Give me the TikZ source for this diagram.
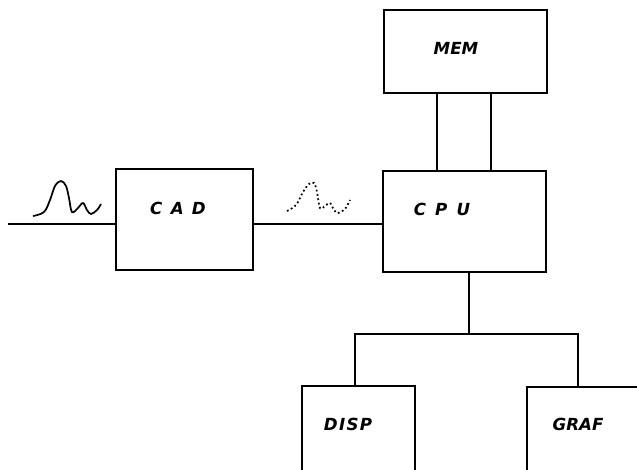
\documentclass[tikz,border=0pt]{standalone}
\usepackage{fontspec}
\newfontfamily\lblfont{DejaVu Sans}
\begin{document}
\begin{tikzpicture}[x=0.75pt,y=-0.75pt,line width=1.1pt,
  lbl/.style={font=\lblfont\bfseries\itshape\fontsize{12.5}{14}\selectfont},
  wire/.style={line width=1.1pt}]
\useasboundingbox (0,0) rectangle (637,470);
\clip (0,0) rectangle (637,470);
% boxes (drawn as nodes)
\node[draw,minimum width=163*0.75pt,minimum height=83*0.75pt,inner sep=0pt] (mem) at (465.5,51.5) {};
\node[draw,minimum width=163*0.75pt,minimum height=101*0.75pt,inner sep=0pt] (cpu) at (464.5,221.5) {};
\node[draw,minimum width=137*0.75pt,minimum height=101*0.75pt,inner sep=0pt] (cad) at (184.5,219.5) {};
\node[draw,minimum width=113*0.75pt,minimum height=100*0.75pt,inner sep=0pt] (disp) at (358.5,436) {};
\node[draw,minimum width=115*0.75pt,minimum height=100*0.75pt,inner sep=0pt] (graf) at (584.5,437) {};
% labels
\node[lbl] (memt) at (456,48) {MEM};
\node[lbl] (cput) at (442,209) {C\hspace{0.55em}P\hspace{0.55em}U};
\node[lbl] (cadt) at (178,208) {C\hspace{0.5em}A\hspace{0.5em}D};
\node[lbl] (dispt) at (348,424) {D\hspace{0.08em}I\hspace{0.08em}S\hspace{0.08em}P};
\node[lbl] (graft) at (578,424) {GRAF};
% connectors
\coordinate (in) at (8,224);
\draw[wire] (in) -- (in -| cad.west);
\draw[wire] (cad.east |- 0,224) -- (cpu.west |- 0,224);
\draw[wire] (mem.south -| 437,0) -- (cpu.north -| 437,0);
\draw[wire] (mem.south -| 491,0) -- (cpu.north -| 491,0);
\coordinate (j) at (469,334);
\draw[wire] (cpu.south -| j) -- (j);
\draw[wire] (disp.north -| 355,0) |- (j) -| (graf.north -| 578,0);
% waveforms
\draw[line width=1.3pt] plot[smooth,tension=0.6] coordinates
 {(33,216) (44,212) (50,200) (55,186) (61,181) (66,186) (69,198) (72,212) (78,208) (83,203) (87,210) (91,214) (97,210) (101,204)};
\draw[line width=1.3pt,dotted] plot[smooth,tension=0.6] coordinates
 {(287,211) (296,205) (303,192) (309,184) (314,183) (317,192) (320,208) (325,206) (330,203) (334,210) (338,213) (345,209) (350,200)};
\end{tikzpicture}
\end{document}
